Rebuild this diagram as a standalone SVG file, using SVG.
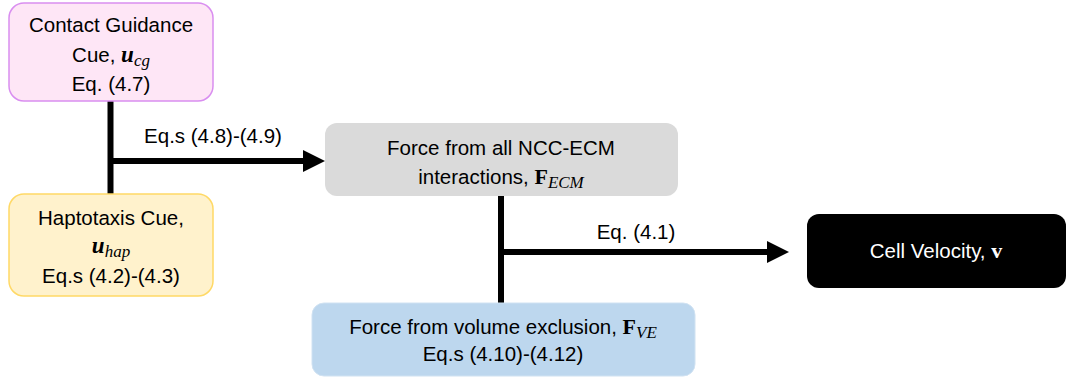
<svg xmlns="http://www.w3.org/2000/svg" width="1067" height="377" viewBox="0 0 1067 377">
  <style>
    .lbl { font-family: "Liberation Sans", Arial, sans-serif; font-size: 20.5px; fill: #000; text-anchor: middle; }
    .wht { fill: #fff; }
    .mb { font-family: "Liberation Serif", "Times New Roman", serif; font-weight: bold; font-size: 22px; }
    .mbi { font-family: "Liberation Serif", "Times New Roman", serif; font-weight: bold; font-style: italic; font-size: 23px; }
    .sub { font-family: "Liberation Serif", "Times New Roman", serif; font-style: italic; font-size: 17px; font-weight: normal; }
    .wire { stroke: #000; stroke-width: 6; fill: none; }
    .head { fill: #000; }
  </style>

  <!-- connectors -->
  <g id="connectors">
    <line class="wire" x1="110.5" y1="101" x2="110.5" y2="194"/>
    <line class="wire" x1="110.5" y1="161" x2="305" y2="161"/>
    <polygon class="head" points="303,150 325,161 303,172"/>
    <text class="lbl" x="213" y="143">Eq.s (4.8)-(4.9)</text>

    <line class="wire" x1="501" y1="196" x2="501" y2="303"/>
    <line class="wire" x1="501" y1="252" x2="769" y2="252"/>
    <polygon class="head" points="767,241 789,252 767,263"/>
    <text class="lbl" x="636" y="239">Eq. (4.1)</text>
  </g>

  <!-- contact guidance cue -->
  <g id="contact-guidance">
    <rect x="9" y="3" width="204" height="98" rx="15" fill="#fee6f6" stroke="#d98ef0" stroke-width="1.5"/>
    <text class="lbl" x="111" y="32">Contact Guidance</text>
    <text class="lbl" x="111" y="62">Cue, <tspan class="mbi">u</tspan><tspan class="sub" dy="4">cg</tspan></text>
    <text class="lbl" x="111" y="91">Eq. (4.7)</text>
  </g>

  <!-- haptotaxis cue -->
  <g id="haptotaxis">
    <rect x="9" y="194" width="204" height="102" rx="15" fill="#fff2cc" stroke="#ffd966" stroke-width="1.5"/>
    <text class="lbl" x="111" y="225">Haptotaxis Cue,</text>
    <text class="lbl" x="111" y="253"><tspan class="mbi">u</tspan><tspan class="sub" dy="4">hap</tspan></text>
    <text class="lbl" x="111" y="283">Eq.s (4.2)-(4.3)</text>
  </g>

  <!-- NCC-ECM force -->
  <g id="ecm-force">
    <rect x="325" y="123" width="353" height="73" rx="12" fill="#dadada"/>
    <text class="lbl" x="501" y="155">Force from all NCC-ECM</text>
    <text class="lbl" x="501" y="184">interactions, <tspan class="mb">F</tspan><tspan class="sub" dy="4">ECM</tspan></text>
  </g>

  <!-- volume exclusion force -->
  <g id="ve-force">
    <rect x="312" y="303" width="383" height="73" rx="12" fill="#bdd7ee" stroke="#d0e2f2" stroke-width="1"/>
    <text class="lbl" x="503" y="334">Force from volume exclusion, <tspan class="mb">F</tspan><tspan class="sub" dy="4">VE</tspan></text>
    <text class="lbl" x="503" y="361">Eq.s (4.10)-(4.12)</text>
  </g>

  <!-- cell velocity -->
  <g id="velocity">
    <rect x="807" y="214" width="259" height="74" rx="12" fill="#000"/>
    <text class="lbl wht" x="936" y="258">Cell Velocity, <tspan class="mb">v</tspan></text>
  </g>
</svg>
